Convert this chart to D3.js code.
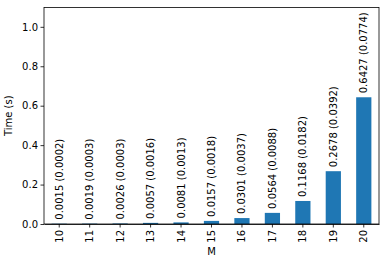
<!DOCTYPE html>
<html>
<head>
<meta charset="utf-8">
<script src="https://cdn.jsdelivr.net/npm/d3@7"></script>
<style>
    body { margin: 0; background: #fff; }
    text { font-family: "DejaVu Sans", sans-serif; fill: #000; }
    .d3-axis path, .d3-axis line { stroke: #000; stroke-width: 0.8; }
</style>
</head>
<body>
<div id="chart"></div>
<script>
const categories = ['10', '11', '12', '13', '14', '15', '16', '17', '18', '19', '20'];
const means = [0.0015, 0.0019, 0.0026, 0.0057, 0.0081, 0.0157, 0.0301, 0.0564, 0.1168, 0.2678, 0.6427];
const stds = [0.0002, 0.0003, 0.0003, 0.0016, 0.0013, 0.0018, 0.0037, 0.0088, 0.0182, 0.0392, 0.0774];
const yTicks = [0.0, 0.2, 0.4, 0.6, 0.8, 1.0];

const margin = { top: 7.5, right: 7, bottom: 41, left: 44 },
      width  = 386 - margin.left - margin.right,
      height = 265 - margin.top - margin.bottom;

const svg = d3.select('#chart')
    .append('svg')
    .attr('width', 386)
    .attr('height', 265)
    .append('g')
    .attr('transform', `translate(${margin.left},${margin.top})`);

const x = d3.scaleBand()
    .domain(categories)
    .range([0, width])
    .paddingInner(0.5)
    .paddingOuter(0.25);

const y = d3.scaleLinear()
    .domain([0, 1.098])
    .range([height, 0]);

svg.selectAll('.bar')
    .data(means)
    .enter()
    .append('rect')
    .attr('class', 'bar')
    .attr('x', (d, i) => x(categories[i]))
    .attr('y', d => y(d))
    .attr('width', x.bandwidth())
    .attr('height', d => height - y(d))
    .attr('fill', '#1f77b4');

// étiquettes verticales au-dessus des barres
svg.selectAll('.lbl')
    .data(means)
    .enter()
    .append('text')
    .attr('class', 'lbl')
    .attr('font-size', 10)
    .attr('transform', (d, i) => `translate(${x(categories[i]) + x.bandwidth() / 2 + 3.5},${y(d) - 4}) rotate(-90)`)
    .text((d, i) => `${d.toFixed(4)} (${stds[i].toFixed(4)})`);

// axe x : traits seulement, les libellés sont tournés à part
svg.append('g')
    .attr('class', 'd3-axis')
    .attr('transform', `translate(0,${height})`)
    .call(d3.axisBottom(x).tickSize(3.5).tickSizeOuter(0).tickFormat(''));

svg.selectAll('.xlbl')
    .data(categories)
    .enter()
    .append('text')
    .attr('class', 'xlbl')
    .attr('font-size', 10)
    .attr('text-anchor', 'end')
    .attr('transform', d => `translate(${x(d) + x.bandwidth() / 2 + 3.5},${height + 6}) rotate(-90)`)
    .text(d => d);

const yAxis = svg.append('g')
    .attr('class', 'd3-axis')
    .call(d3.axisLeft(y).tickValues(yTicks).tickFormat(d3.format('.1f')).tickSize(3.5).tickSizeOuter(0));
yAxis.selectAll('text').attr('font-size', 10).attr('x', -6);
yAxis.select('.domain').remove();

svg.append('rect')
    .attr('width', width)
    .attr('height', height)
    .attr('fill', 'none')
    .attr('stroke', '#000')
    .attr('stroke-width', 0.8);

svg.append('text')
    .attr('text-anchor', 'middle')
    .attr('font-size', 10)
    .attr('x', x('15') + x.bandwidth() / 2)
    .attr('y', height + 31)
    .text('M');

svg.append('text')
    .attr('text-anchor', 'middle')
    .attr('font-size', 10)
    .attr('transform', 'rotate(-90)')
    .attr('x', -height / 2)
    .attr('y', -margin.left + 12)
    .text('Time (s)');
</script>
</body>
</html>
